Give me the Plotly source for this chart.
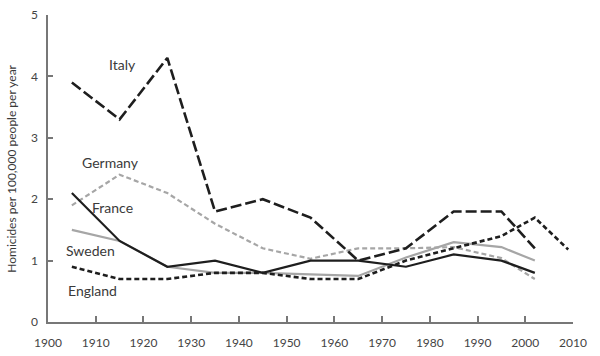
import plotly.graph_objects as go

years = [1905, 1915, 1925, 1935, 1945, 1955, 1965, 1975, 1985, 1995, 2002]
years_england = [1905, 1915, 1925, 1935, 1945, 1955, 1965, 1975, 1985, 1995, 2002, 2009]

italy = [3.9, 3.3, 4.3, 1.8, 2.0, 1.7, 1.0, 1.2, 1.8, 1.8, 1.2]
germany = [1.9, 2.4, 2.1, 1.6, 1.2, 1.03, 1.2, 1.2, 1.22, 1.04, 0.7]
france = [2.1, 1.32, 0.9, 1.0, 0.8, 1.0, 1.0, 0.9, 1.1, 1.0, 0.8]
sweden = [1.5, 1.32, 0.9, 0.8, 0.8, 0.78, 0.75, 1.05, 1.3, 1.22, 1.0]
england = [0.9, 0.7, 0.7, 0.8, 0.8, 0.7, 0.7, 1.0, 1.2, 1.4, 1.7, 1.18]

labels = ["Italy", "Germany", "France", "Sweden", "England"]
label_x = [1915.7, 1913.0, 1913.6, 1908.8, 1909.4]
label_y = [4.19, 2.6, 1.86, 1.16, 0.52]

x_ticks = list(range(1900, 2011, 10))
y_ticks = [0, 1, 2, 3, 4, 5]

fig = go.Figure()
fig.add_trace(go.Scatter(x=years, y=germany, mode="lines", name="Germany",
                         line=dict(color="#a6a6a6", width=2.2, dash="5px,3px")))
fig.add_trace(go.Scatter(x=years, y=sweden, mode="lines", name="Sweden",
                         line=dict(color="#a6a6a6", width=2.2)))
fig.add_trace(go.Scatter(x=years, y=france, mode="lines", name="France",
                         line=dict(color="#1e1e1e", width=2.2)))
fig.add_trace(go.Scatter(x=years_england, y=england, mode="lines", name="England",
                         line=dict(color="#1e1e1e", width=2.6, dash="5px,3px")))
fig.add_trace(go.Scatter(x=years, y=italy, mode="lines", name="Italy",
                         line=dict(color="#1e1e1e", width=2.6, dash="11px,4px")))

for t, lx, ly in zip(labels, label_x, label_y):
    fig.add_annotation(x=lx, y=ly, text=t, showarrow=False,
                       font=dict(family="Lato", size=14, color="#3a3a3a"))

fig.add_annotation(xref="paper", yref="paper", x=-0.07, y=0.5, xanchor="center", yanchor="middle",
                   text="Homicides per 100,000 people per year", textangle=-90, showarrow=False,
                   font=dict(family="Lato", size=12, color="#3a3a3a"))

fig.update_layout(
    width=600, height=356,
    margin=dict(l=48, r=27, t=15, b=34, autoexpand=False),
    paper_bgcolor="white", plot_bgcolor="white",
    showlegend=False,
    font=dict(family="Lato", color="#444"),
)
fig.update_xaxes(range=[1900, 2010], tickvals=x_ticks, ticktext=[str(v) for v in x_ticks],
                 showgrid=False, zeroline=False, showline=True, linecolor="#777", linewidth=1.5,
                 ticks="inside", ticklen=6, tickwidth=1.5, tickcolor="#777", automargin=False,
                 ticklabelstandoff=9,
                 tickfont=dict(family="Lato", size=12, color="#444"))
fig.update_yaxes(range=[0, 5], tickvals=y_ticks, showgrid=False, zeroline=False,
                 showline=True, linecolor="#777", linewidth=1.5, automargin=False,
                 ticks="inside", ticklen=5, tickwidth=1.5, tickcolor="#777",
                 ticklabelstandoff=6,
                 tickfont=dict(family="Lato", size=12, color="#444"))

fig.write_html("out.html", config={"displayModeBar": False},
               post_script="document.body.style.margin='0';document.body.style.overflow='hidden';")
